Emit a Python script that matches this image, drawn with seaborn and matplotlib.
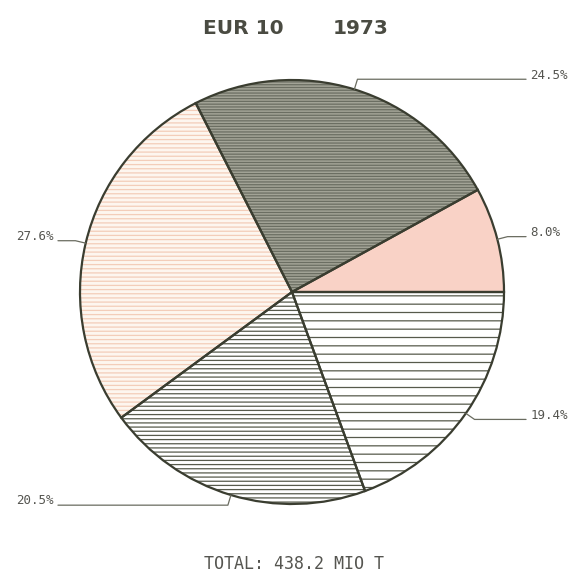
import numpy as np
import matplotlib
matplotlib.use("Agg")
import matplotlib.pyplot as plt
import seaborn as sns

# ---- data ----
shares = [8.0, 24.5, 27.6, 20.5, 19.4]
labels = ["8.0%", "24.5%", "27.6%", "20.5%", "19.4%"]
title_left = "EUR 10"
title_right = "1973"
total_text = "TOTAL: 438.2 MIO T"

# ---- styles ----
face_colors = ["#f9d2c6", "#a2a396", "#fdf6ef", "#ffffff", "#ffffff"]
hatch_colors = ["#f9d2c6", "#6b6e62", "#f3cdb9", "#575a4c", "#575a4c"]
hatches = [None, "------", "----", "----", "--"]
outline = "#3a3d30"
text_col = "#555550"

sns.set_theme(style="white")
plt.rcParams["hatch.linewidth"] = 0.9

fig = plt.figure(figsize=(5.74, 5.74), dpi=100)
fig.patch.set_facecolor("white")
S = 574.0
ax = fig.add_axes([80 / S, (S - 504) / S, 424 / S, 424 / S])

wedges, _ = ax.pie(shares, startangle=0, counterclock=True, radius=1.0,
                   wedgeprops=dict(linewidth=0))
for w, fc, hc, h in zip(wedges, face_colors, hatch_colors, hatches):
    w.set_facecolor(fc)
    w.set_edgecolor(hc)
    w.set_linewidth(0)
    if h:
        w.set_hatch(h)

# outlines
ax.pie(shares, startangle=0, counterclock=True, radius=1.0,
       wedgeprops=dict(fill=False, edgecolor=outline, linewidth=1.6))

ax.set_xlim(-1, 1)
ax.set_ylim(-1, 1)
ax.set_aspect("equal")
ax.axis("off")

# leader lines + labels
line_end = 1.104
for w, lab in zip(wedges, labels):
    th = np.deg2rad((w.theta1 + w.theta2) / 2)
    p0 = np.array([np.cos(th), np.sin(th)])
    p1 = 1.05 * p0
    side = 1 if p0[0] > 0 else -1
    xe = side * line_end
    ax.plot([p0[0], p1[0], xe], [p0[1], p1[1], p1[1]], color="#6a6c60",
            lw=0.9, clip_on=False)
    ax.text(xe + side * 0.02, p1[1] + 0.02, lab, ha="left" if side > 0 else "right",
            va="center", fontsize=9, family="DejaVu Sans Mono", color=text_col,
            clip_on=False)

fig.text(203 / S, 1 - 29 / S, title_left, ha="left", va="center", fontsize=14.5,
         fontweight="bold", family="DejaVu Sans", color="#4a4b42")
fig.text(333 / S, 1 - 29 / S, title_right, ha="left", va="center", fontsize=14.5,
         fontweight="bold", family="DejaVu Sans", color="#4a4b42")
fig.text(293.5 / S, 1 - 564 / S, total_text, ha="center", va="center", fontsize=12,
         family="DejaVu Sans Mono", color=text_col)

fig.savefig("out.png", dpi=100, facecolor="white")
